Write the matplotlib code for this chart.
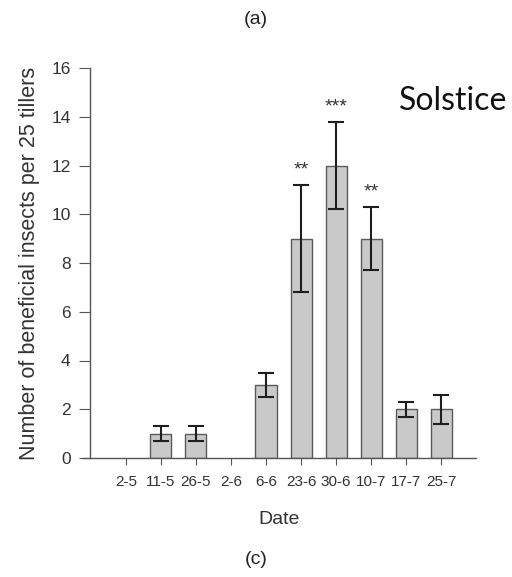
import matplotlib
matplotlib.use("Agg")
import matplotlib.pyplot as plt
import numpy as np

dates = ["2-5", "11-5", "26-5", "2-6", "6-6", "23-6", "30-6", "10-7", "17-7", "25-7"]
means = [0, 1, 1, 0, 3, 9, 12, 9, 2, 2]
errors = [0, 0.3, 0.3, 0, 0.5, 2.2, 1.8, 1.3, 0.3, 0.6]
stars = ["", "", "", "", "", "**", "***", "**", "", ""]
y_ticks = [0, 2, 4, 6, 8, 10, 12, 14, 16]

plt.rcParams["font.family"] = ["Liberation Sans", "DejaVu Sans"]

fig = plt.figure(figsize=(5.12, 5.77), dpi=100)
ax = fig.add_axes([83 / 512, 1 - 458 / 577, (476 - 83) / 512, (458 - 68) / 577])

x = np.arange(len(dates))
means_arr = np.array(means, dtype=float)
errors_arr = np.array(errors, dtype=float)
edge = ["none" if m == 0 else "#5a5a5a" for m in means]
ax.bar(x, means_arr, width=0.6, color="#c9c9c9", edgecolor=edge, linewidth=1.0, zorder=2)
mask = errors_arr > 0
ax.errorbar(x[mask], means_arr[mask], yerr=errors_arr[mask], fmt="none",
            ecolor="#1e1e1e", elinewidth=1.5, capsize=6, capthick=1.5, zorder=3)

for xi, m, e, s in zip(x, means, errors, stars):
    if s:
        ax.text(xi, m + e + 0.25, s, ha="center", va="bottom", fontsize=14, color="#333333")

ax.set_xlim(-1.22, 9.99)
ax.set_ylim(0, 16)
ax.spines["left"].set_position(("data", -1.02))
ax.spines["top"].set_visible(False)
ax.spines["right"].set_visible(False)
for sp in ("left", "bottom"):
    ax.spines[sp].set_color("#555555")
    ax.spines[sp].set_linewidth(1.0)

ax.set_xticks(x)
ax.set_xticklabels(dates, fontsize=11, color="#333333")
ax.set_yticks(y_ticks)
ax.set_yticklabels([str(t) for t in y_ticks], fontsize=12.5, color="#333333")
ax.tick_params(axis="x", direction="out", length=5, color="#555555", pad=7)
ax.tick_params(axis="y", direction="out", length=8, color="#555555", pad=6)

ax.set_ylabel("Number of beneficial insects per 25 tillers", fontsize=15.5, color="#333333", labelpad=8)
ax.set_xlabel("Date", fontsize=14, color="#333333", labelpad=16)

fig.text(507 / 512, 1 - 101 / 577, "Solstice", ha="right", va="center",
         fontsize=23, family="Lato", color="#111111")

fig.text(0.5, 1 - 20 / 577, "(a)", ha="center", va="center", fontsize=14, color="#222222")
fig.text(0.5, 1 - 560 / 577, "(c)", ha="center", va="center", fontsize=14, color="#222222")

fig.savefig("out.png", dpi=100, facecolor="white")
